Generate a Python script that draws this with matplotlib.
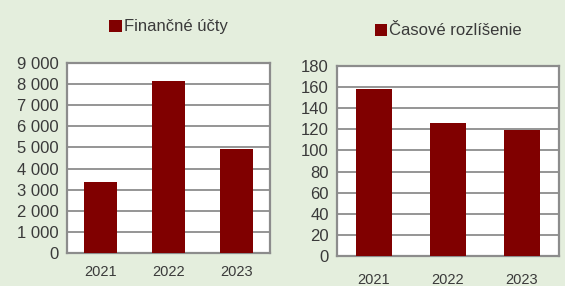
import matplotlib.pyplot as plt

years = ['2021', '2022', '2023']
financne_ucty = [3350, 8150, 4950]
casove_rozlisenie = [158, 126, 119]

bg = '#E4EEDD'
bar_color = '#800000'
grid_color = '#8C8C8C'
text_color = '#3A3A3A'

plt.rcParams['font.family'] = ['Liberation Sans', 'DejaVu Sans']

fig = plt.figure(figsize=(5.65, 2.86), dpi=100, facecolor=bg)
W, H = 565, 286


def make_axes(left, right, top, bottom):
    return fig.add_axes([left / W, 1 - bottom / H, (right - left) / W, (bottom - top) / H])


def fmt_thousands(v):
    return f'{int(v):,}'.replace(',', ' ')


ax1 = make_axes(67, 270, 63, 253)
ax2 = make_axes(337, 559, 66, 256)

for ax, vals, ymax, step, label, xpad, leg_y in [
    (ax1, financne_ucty, 9000, 1000, 'Finančné účty', 9, 1.115),
    (ax2, casove_rozlisenie, 180, 20, 'Časové rozlíšenie', 12, 1.11),
]:
    ax.set_facecolor('white')
    ax.bar(range(len(years)), vals, width=0.49, color=bar_color, zorder=3, label=label)
    ax.set_xlim(-0.5, len(years) - 0.5)
    ax.set_ylim(0, ymax)
    ticks = list(range(0, ymax + 1, step))
    ax.set_yticks(ticks)
    if ymax > 1000:
        ax.set_yticklabels([fmt_thousands(t) for t in ticks])
    ax.set_xticks(range(len(years)))
    ax.set_xticklabels(years)
    ax.grid(axis='y', color=grid_color, linewidth=1.3, zorder=1)
    for s in ax.spines.values():
        s.set_color(grid_color)
        s.set_linewidth(1.6)
    ax.tick_params(axis='both', length=0, colors=text_color)
    ax.tick_params(axis='y', labelsize=12, pad=6)
    ax.tick_params(axis='x', labelsize=10.5, pad=xpad)
    leg = ax.legend(loc='lower center', bbox_to_anchor=(0.5, leg_y), frameon=False,
                    fontsize=12, handlelength=0.75, handleheight=0.75, handletextpad=0.1,
                    borderaxespad=0)
    for t in leg.get_texts():
        t.set_color(text_color)

fig.savefig('out.png', dpi=100, facecolor=bg)
